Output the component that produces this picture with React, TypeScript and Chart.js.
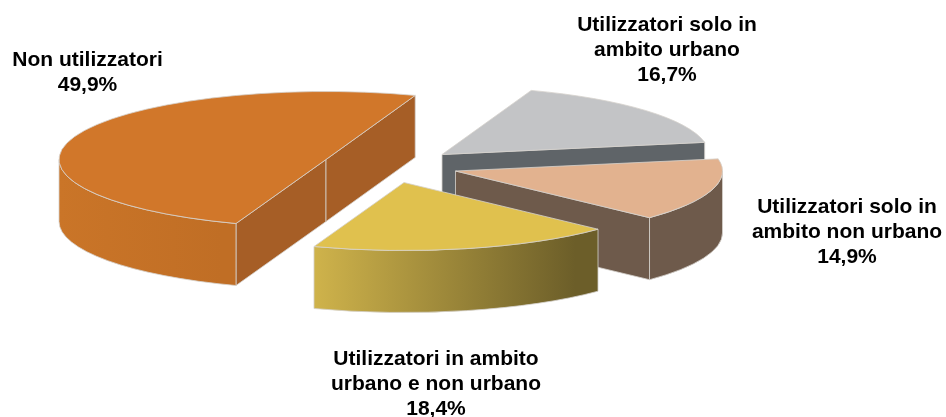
import React, { useEffect, useRef } from "react";
import { Chart, registerables } from "chart.js";

Chart.register(...registerables);

const categories = ["Non utilizzatori", "Utilizzatori solo in ambito urbano", "Utilizzatori solo in ambito non urbano", "Utilizzatori in ambito urbano e non urbano"];
const shares = [49.9, 16.7, 14.9, 18.4];
const percentLabels = ["49,9%", "16,7%", "14,9%", "18,4%"];
const labelLines = [["Non utilizzatori"], ["Utilizzatori solo in", "ambito urbano"], ["Utilizzatori solo in", "ambito non urbano"], ["Utilizzatori in ambito", "urbano e non urbano"]];
const labelAnchors = [[87.5, 65.5], [667, 30.5], [847, 213], [436, 364.5]];
const topColors = ["#d1772a", "#c3c4c6", "#e2b28f", "#e0c14e"];
const rimStops = [["#ca7528", "#c06e25"], ["#5f6468", "#5f6468"], ["#6e5a4b", "#6e5a4b"], ["#cfb34b", "#6c5e29"]];
const cutColors = ["#a65e26", "#5f6468", "#6e5a4b", "#6c5e29"];
const centers = [[326, 159.5], [442, 154.5], [455.5, 171], [404, 182.5]];
const drawOrder = [1, 2, 0, 3];
const RX = 267;
const RY = 68;
const DEPTH = 62;
const EDGE = "rgba(214,210,205,0.8)";

const pie3d = {
  id: "pie3d",
  beforeDatasetsDraw(chart: any) {
    const ctx: CanvasRenderingContext2D = chart.ctx;
    const arcs = chart.getDatasetMeta(0).data;
    for (const i of drawOrder) {
      const el = arcs[i];
      const [cx, cy] = centers[i];
      const s = el.startAngle;
      const e = el.endAngle;
      const px = (a: number) => cx + RX * Math.cos(a);
      const py = (a: number) => cy + RY * Math.sin(a);
      const cutFace = (a: number) => {
        ctx.beginPath();
        ctx.moveTo(cx, cy);
        ctx.lineTo(px(a), py(a));
        ctx.lineTo(px(a), py(a) + DEPTH);
        ctx.lineTo(cx, cy + DEPTH);
        ctx.closePath();
        ctx.fillStyle = cutColors[i];
        ctx.fill();
        ctx.strokeStyle = EDGE;
        ctx.lineWidth = 1;
        ctx.stroke();
      };
      if (Math.cos(s) < 0) cutFace(s);
      if (Math.cos(e) > 0) cutFace(e);
      // outer rim, only the part facing the viewer
      for (let k = -1; k < 3; k++) {
        const a0 = Math.max(s, 2 * Math.PI * k);
        const a1 = Math.min(e, 2 * Math.PI * k + Math.PI);
        if (a1 <= a0) continue;
        const x0 = Math.min(px(a0), px(a1));
        const x1 = Math.max(px(a0), px(a1));
        const g = ctx.createLinearGradient(x0, 0, x1, 0);
        g.addColorStop(0, rimStops[i][0]);
        g.addColorStop(0.92, rimStops[i][1]);
        g.addColorStop(1, rimStops[i][1]);
        ctx.beginPath();
        ctx.ellipse(cx, cy, RX, RY, 0, a0, a1);
        ctx.lineTo(px(a1), py(a1) + DEPTH);
        ctx.ellipse(cx, cy + DEPTH, RX, RY, 0, a1, a0, true);
        ctx.closePath();
        ctx.fillStyle = g;
        ctx.fill();
        ctx.strokeStyle = EDGE;
        ctx.lineWidth = 1;
        ctx.stroke();
      }
      // top face: the library's own arc, squashed to the ellipse
      ctx.save();
      ctx.translate(cx, cy);
      ctx.scale(RX / el.outerRadius, RY / el.outerRadius);
      ctx.translate(-el.x, -el.y);
      el.draw(ctx);
      ctx.restore();
      ctx.beginPath();
      ctx.moveTo(cx, cy);
      ctx.ellipse(cx, cy, RX, RY, 0, s, e);
      ctx.closePath();
      ctx.strokeStyle = EDGE;
      ctx.lineWidth = 1;
      ctx.stroke();
    }
    return false;
  },
  afterDraw(chart: any) {
    const ctx: CanvasRenderingContext2D = chart.ctx;
    ctx.save();
    ctx.fillStyle = "#000";
    ctx.font = 'bold 21px "Liberation Sans", Arial, sans-serif';
    ctx.textAlign = "center";
    ctx.textBaseline = "alphabetic";
    categories.forEach((_, i) => {
      const lines = [...labelLines[i], percentLabels[i]];
      lines.forEach((t, j) => ctx.fillText(t, labelAnchors[i][0], labelAnchors[i][1] + j * 25.2));
    });
    ctx.restore();
  },
};

export default function App() {
  const ref = useRef<HTMLCanvasElement>(null);
  useEffect(() => {
    const chart = new Chart(ref.current!, {
      type: "pie",
      data: {
        labels: categories,
        datasets: [{ data: shares, backgroundColor: topColors, borderWidth: 0 }],
      },
      options: {
        responsive: false,
        animation: false,
        rotation: 199.7,
        plugins: { legend: { display: false }, tooltip: { enabled: false } },
      },
      plugins: [pie3d],
    } as any);
    return () => chart.destroy();
  }, []);
  return (
    <div style={{ position: "fixed", left: 0, top: 0, width: 946, height: 417, background: "#fff" }}>
      <canvas ref={ref} width={946} height={417} style={{ display: "block" }} />
    </div>
  );
}
